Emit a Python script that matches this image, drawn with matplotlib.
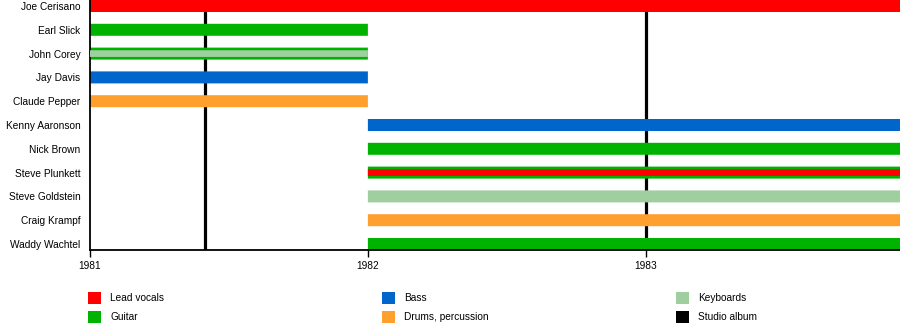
import matplotlib
matplotlib.use("Agg")
import matplotlib.pyplot as plt
from matplotlib.patches import Rectangle

plt.rcParams['font.family'] = ['Liberation Sans', 'DejaVu Sans']

# Members, top to bottom
members = ["Joe Cerisano", "Earl Slick", "John Corey", "Jay Davis", "Claude Pepper",
           "Kenny Aaronson", "Nick Brown", "Steve Plunkett", "Steve Goldstein",
           "Craig Krampf", "Waddy Wachtel"]

# main bars, in years
start_all = 1981.0
end_all = 1983.915
main_role = ["vocals", "guitar", "guitar", "bass", "drums",
             "bass", "guitar", "guitar", "keys", "drums", "guitar"]
main_start = [1981.0, 1981.0, 1981.0, 1981.0, 1981.0,
              1982.0, 1982.0, 1982.0, 1982.0, 1982.0, 1982.0]
main_end = [end_all, 1982.0, 1982.0, 1982.0, 1982.0,
            end_all, end_all, end_all, end_all, end_all, end_all]

# secondary (thin) bars
sec_member = ["John Corey", "Steve Plunkett"]
sec_role = ["keys", "vocals"]
sec_start = [1981.0, 1982.0]
sec_end = [1982.0, end_all]

albums = [1981.414, 1983.0]
years = [1981, 1982, 1983]

colors = {"vocals": "#FF0000", "guitar": "#00B300", "bass": "#0066CC",
          "drums": "#FFA02E", "keys": "#9FCF9F", "album": "#000000"}
legend_items = [("Lead vocals", "vocals"), ("Guitar", "guitar"), ("Bass", "bass"),
                ("Drums, percussion", "drums"), ("Keyboards", "keys"), ("Studio album", "album")]

fig = plt.figure(figsize=(9, 3.3), dpi=100)
ax = fig.add_axes([0.1, 1 - 250 / 330, 0.9, 250 / 330])

ypos = {m: i for i, m in enumerate(members)}

for a in albums:
    ax.axvline(a, color="black", lw=2.3, zorder=1)

for m, r, s, e in zip(members, main_role, main_start, main_end):
    ax.barh(ypos[m], e - s, left=s, height=0.504, color=colors[r], zorder=2,
            snap=False, linewidth=0)

for m, r, s, e in zip(sec_member, sec_role, sec_start, sec_end):
    ax.barh(ypos[m], e - s, left=s, height=0.28, color=colors[r], zorder=3,
            snap=False, linewidth=0)

ax.set_xlim(start_all, end_all)
ax.set_ylim(10.252, -0.252)
ax.set_yticks(range(len(members)))
ax.set_yticklabels(members, fontsize=7.3)
ax.tick_params(axis="y", length=0, pad=7)
ax.set_xticks(years)
ax.set_xticklabels([str(y) for y in years], fontsize=7.3)
ax.tick_params(axis="x", length=5, width=1, pad=3)
for s in ["top", "right"]:
    ax.spines[s].set_visible(False)
for s in ["left", "bottom"]:
    ax.spines[s].set_linewidth(1.3)

# legend in three columns, two rows
col_x = [88 / 900, 382 / 900, 676 / 900]
for i, (lab, key) in enumerate(legend_items):
    col = i // 2
    row = i % 2
    y = 1 - (298 + row * 19) / 330
    fig.patches.append(Rectangle((col_x[col], y - 6 / 330), 13 / 900, 12 / 330,
                                 transform=fig.transFigure, facecolor=colors[key],
                                 edgecolor="none"))
    fig.text(col_x[col] + 22 / 900, y, lab, fontsize=7.3, va="center", ha="left")

fig.savefig("out.png", dpi=100)
